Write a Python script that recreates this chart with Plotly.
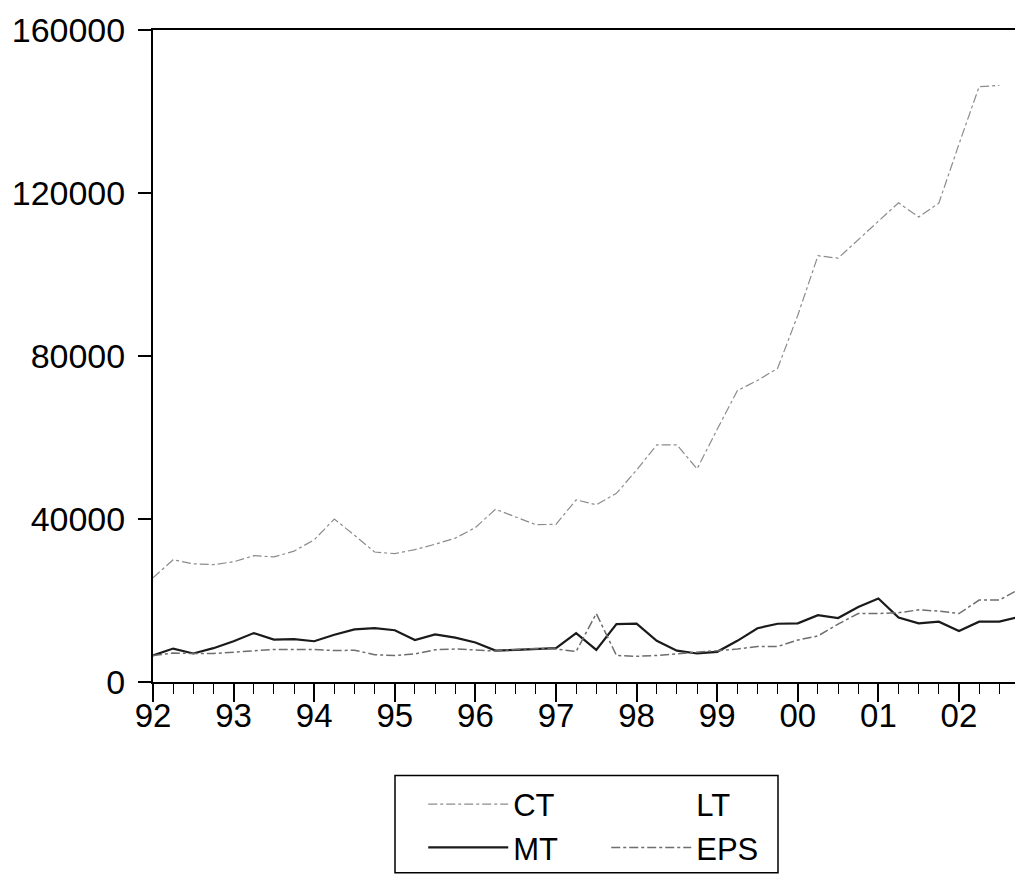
import plotly.graph_objects as go

# Quarterly observations, 1992Q1 .. 2002Q4
periods = [f"{1992 + i // 4}Q{i % 4 + 1}" for i in range(44)]
year_labels = ["92", "93", "94", "95", "96", "97", "98", "99", "00", "01", "02"]

ct = [25600, 30000, 29000, 28800,
      29500, 31000, 30700, 32100,
      34900, 40000, 36000, 31900,
      31500, 32500, 33800, 35300,
      37900, 42400, 40500, 38600,
      38700, 44700, 43500, 46300,
      52000, 58200, 58200, 52300,
      62000, 71500, 74000, 77000,
      90000, 104600, 104000, 108500,
      113000, 117600, 114100, 117500,
      132000, 146100, 146400, None]

mt = [6500, 8200, 7000, 8300,
      10000, 12000, 10400, 10500,
      10000, 11600, 12900, 13200,
      12700, 10300, 11700, 10900,
      9700, 7700, 7900, 8100,
      8300, 12000, 7900, 14200,
      14300, 10100, 7700, 7000,
      7400, 10100, 13200, 14300,
      14400, 16400, 15700, 18400,
      20500, 15800, 14400, 14800,
      12500, 14800, 14800, 16000]

eps = [6500, 7100, 7000, 7000,
       7300, 7700, 8000, 8000,
       8000, 7700, 7800, 6700,
       6500, 6900, 7900, 8100,
       7900, 7600, 8000, 8200,
       8100, 7500, 16800, 6500,
       6300, 6500, 6900, 7300,
       7600, 8100, 8700, 8700,
       10300, 11300, 14200, 16800,
       16800, 17000, 17700, 17400,
       16800, 20100, 20100, 22800]

# LT: no observations drawn
lt = [None] * len(periods)

y_ticks = [0, 40000, 80000, 120000, 160000]
y_ticktext = ["0", "40000", "80000", "120000", "160000"]

x = list(range(len(periods)))
font_family = "Liberation Sans, Arial, sans-serif"

fig = go.Figure()
fig.add_trace(go.Scatter(x=x, y=ct, name="CT", mode="lines", legend="legend",
                         line=dict(color="#8c8c8c", width=1.2, dash="dashdot")))
fig.add_trace(go.Scatter(x=x, y=mt, name="MT", mode="lines", legend="legend",
                         line=dict(color="#1a1a1a", width=2.2)))
fig.add_trace(go.Scatter(x=x, y=lt, name="LT", mode="lines", legend="legend2",
                         line=dict(color="rgba(255,255,255,0)", width=1)))
fig.add_trace(go.Scatter(x=x, y=eps, name="EPS", mode="lines", legend="legend2",
                         line=dict(color="#6e6e6e", width=1.5, dash="dashdot")))

legend_common = dict(
    orientation="v", bgcolor="rgba(0,0,0,0)", borderwidth=0,
    font=dict(family=font_family, size=31, color="black"),
    itemwidth=80, tracegroupgap=0, xanchor="left", yanchor="top",
)

fig.update_layout(
    width=1015, height=876,
    margin=dict(l=153, r=0, t=30, b=194),
    paper_bgcolor="white", plot_bgcolor="white",
    font=dict(family=font_family, size=33, color="black"),
    legend=dict(x=0.3135, y=-0.1465, **legend_common),
    legend2=dict(x=0.5258, y=-0.1465, **legend_common),
    xaxis=dict(
        range=[0, 42.78], tickmode="array",
        tickvals=[4 * i for i in range(len(year_labels))], ticktext=year_labels,
        ticks="outside", ticklen=18, tickwidth=1.5, tickcolor="black",
        minor=dict(dtick=1, tick0=0, ticks="outside", ticklen=10, tickwidth=1.2, tickcolor="black"),
        showline=True, linecolor="black", linewidth=2, mirror=True,
        showgrid=False, zeroline=False,
        tickfont=dict(size=33), ticklabelstandoff=-15,
    ),
    yaxis=dict(
        range=[0, 160000], tickmode="array", tickvals=y_ticks, ticktext=y_ticktext,
        ticks="outside", ticklen=13, tickwidth=1.5, tickcolor="black",
        showline=True, linecolor="black", linewidth=2, mirror=False,
        showgrid=False, zeroline=False,
        tickfont=dict(size=34), ticklabelstandoff=6,
    ),
    shapes=[dict(type="rect", xref="paper", yref="paper",
                 x0=(395 - 153) / 862, x1=(778 - 153) / 862,
                 y0=(681.5 - 872) / 651.5, y1=(681.5 - 775) / 651.5,
                 line=dict(color="black", width=1.5), fillcolor="rgba(0,0,0,0)")],
)

fig.write_html("out.html")
